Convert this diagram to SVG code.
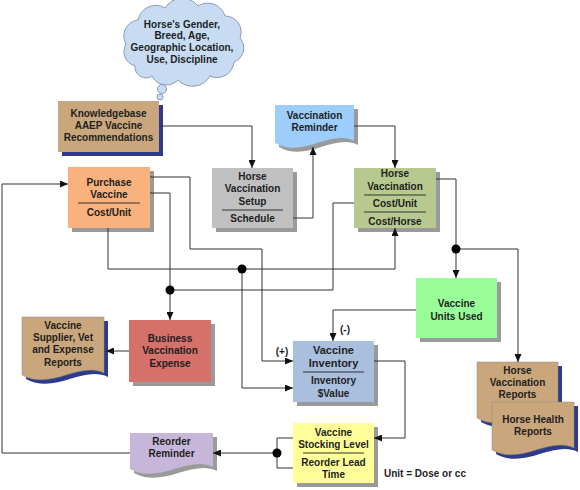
<svg xmlns="http://www.w3.org/2000/svg" width="580" height="490" viewBox="0 0 580 490">
<style>
text{font-family:"Liberation Sans",Arial,sans-serif;font-weight:bold;font-size:10px;fill:#1e1e1e;text-anchor:middle}
.sh{fill:#9a9a9a}
.nv{fill:#2e3a8a}
.box{stroke:none}
.sep{stroke:#333;stroke-width:1}
.c{fill:none;stroke:#333;stroke-width:1}
.dot{fill:#000}
</style>
<defs>
<marker id="ar" markerUnits="userSpaceOnUse" markerWidth="8" markerHeight="7" refX="8" refY="3.5" orient="auto">
<path d="M0,0 L8,3.5 L0,7 z" fill="#111"/>
</marker>
</defs>
<rect width="580" height="490" fill="#fff"/>

<g id="cloud">
<path d="M135,66 A15,15 0 0 1 126,44 A16,16 0 0 1 138,20 A18,18 0 0 1 165,8 A20,20 0 0 1 198,6 A18,18 0 0 1 225,16 A16,16 0 0 1 240,38 A15,15 0 0 1 234,62 A17,17 0 0 1 210,76 A20,20 0 0 1 178,80 A16,16 0 0 1 152,76 A11,11 0 0 1 135,66 Z" fill="#c7dbf3" stroke="#8c9bb2" stroke-width="1"/>
<circle cx="162" cy="89" r="4.5" fill="#c7dbf3" stroke="#8c9bb2"/>
<circle cx="160" cy="97" r="3" fill="#c7dbf3" stroke="#8c9bb2"/>
<text x="182" y="27.5">Horse's Gender,</text>
<text x="182" y="39">Breed, Age,</text>
<text x="182" y="50.5">Geographic Location,</text>
<text x="182" y="63">Use, Discipline</text>
</g>

<g id="knowledgebase">
<rect class="nv" x="62" y="105" width="101" height="51"/>
<rect x="58" y="101" width="101" height="51" fill="#c9a67b"/>
<text x="108.5" y="116.5">Knowledgebase</text>
<text x="108.5" y="128.5">AAEP Vaccine</text>
<text x="108.5" y="141">Recommendations</text>
</g>

<g id="purchase">
<rect class="sh" x="72" y="171" width="82" height="61"/>
<rect x="68" y="167" width="82" height="61" fill="#f9b27d"/>
<text x="109" y="185.5">Purchase</text>
<text x="109" y="197.5">Vaccine</text>
<line class="sep" x1="78" y1="203" x2="140" y2="203"/>
<text x="109" y="215.5">Cost/Unit</text>
</g>

<g id="setup">
<rect class="sh" x="216" y="172" width="81" height="60"/>
<rect x="212" y="168" width="81" height="60" fill="#c0c0c0"/>
<text x="252.5" y="179.5">Horse</text>
<text x="252.5" y="192">Vaccination</text>
<text x="252.5" y="204.5">Setup</text>
<line class="sep" x1="222" y1="210" x2="283" y2="210"/>
<text x="252.5" y="221.5">Schedule</text>
</g>

<g id="reminder">
<path class="sh" transform="translate(4,4)" d="M275,105 H354 V141 C330.3,129 302.7,159 275,143 Z"/>
<path d="M275,105 H354 V141 C330.3,129 302.7,159 275,143 Z" fill="#9ccdfb"/>
<text x="314.5" y="118.5">Vaccination</text>
<text x="314.5" y="130.5">Reminder</text>
</g>

<g id="horsevacc">
<rect class="sh" x="358" y="172" width="82" height="60"/>
<rect x="354" y="168" width="82" height="60" fill="#b8c98f"/>
<text x="395" y="176.5">Horse</text>
<text x="395" y="189.5">Vaccination</text>
<line class="sep" x1="364" y1="195" x2="426" y2="195"/>
<text x="395" y="207">Cost/Unit</text>
<line class="sep" x1="364" y1="212" x2="426" y2="212"/>
<text x="395" y="224.5">Cost/Horse</text>
</g>

<g id="unitsused">
<rect class="sh" x="420" y="282" width="81" height="60"/>
<rect x="416" y="278" width="81" height="60" fill="#99fd99"/>
<text x="456.5" y="306.5">Vaccine</text>
<text x="456.5" y="319.5">Units Used</text>
</g>

<g id="business">
<rect class="sh" x="133" y="324" width="82" height="62"/>
<rect x="129" y="320" width="82" height="62" fill="#d5706b"/>
<text x="170" y="341.5">Business</text>
<text x="170" y="354">Vaccination</text>
<text x="170" y="366.5">Expense</text>
</g>

<g id="supplier">
<path class="nv" transform="translate(4,4)" d="M22,317 H104 V373 C79.4,361 50.7,391 22,375 Z"/>
<path d="M22,317 H104 V373 C79.4,361 50.7,391 22,375 Z" fill="#c9a67b" stroke="#8a8a8a" stroke-width="0.5"/>
<text x="63" y="328.5">Vaccine</text>
<text x="63" y="340.5">Supplier, Vet</text>
<text x="63" y="353">and Expense</text>
<text x="63" y="365.5">Reports</text>
</g>

<g id="inventory">
<rect class="sh" x="297" y="345" width="81" height="61"/>
<rect x="293" y="341" width="81" height="61" fill="#a9bfdd"/>
<text x="333.5" y="354" style="font-size:11px">Vaccine</text>
<text x="333.5" y="367" style="font-size:11px">Inventory</text>
<line class="sep" x1="303" y1="372" x2="364" y2="372"/>
<text x="333.5" y="384">Inventory</text>
<text x="333.5" y="396.5">$Value</text>
</g>

<g id="stocking">
<rect class="sh" x="297" y="427" width="81" height="60"/>
<rect x="293" y="423" width="81" height="60" fill="#ffff99"/>
<text x="333.5" y="435.5">Vaccine</text>
<text x="333.5" y="447.5">Stocking Level</text>
<line class="sep" x1="303" y1="453" x2="364" y2="453"/>
<text x="333.5" y="465.5">Reorder Lead</text>
<text x="333.5" y="477.5">Time</text>
</g>

<g id="reorder">
<path class="sh" transform="translate(4,4)" d="M130,433 H213 V467 C188.1,455 159.05,485 130,469 Z"/>
<path d="M130,433 H213 V467 C188.1,455 159.05,485 130,469 Z" fill="#c6b7da"/>
<text x="171.5" y="444.5">Reorder</text>
<text x="171.5" y="457">Reminder</text>
</g>

<g id="hvreports">
<path class="nv" transform="translate(4,4)" d="M477,362 H558 V416 C533.7,404 505.35,434 477,418 Z"/>
<path d="M477,362 H558 V416 C533.7,404 505.35,434 477,418 Z" fill="#c9a67b" stroke="#8a8a8a" stroke-width="0.5"/>
<text x="517.5" y="373.5">Horse</text>
<text x="517.5" y="385.5">Vaccination</text>
<text x="517.5" y="397.5">Reports</text>
</g>

<g id="hhreports">
<path class="nv" transform="translate(4,4)" d="M492,402 H574 V448 C549.4,436 520.7,466 492,450 Z"/>
<path d="M492,402 H574 V448 C549.4,436 520.7,466 492,450 Z" fill="#c9a67b" stroke="#8a8a8a" stroke-width="0.5"/>
<text x="533" y="422.5">Horse Health</text>
<text x="533" y="434.5">Reports</text>
</g>

<g id="connectors">
<path class="c" d="M159,126 H252 V168" marker-end="url(#ar)"/>
<path class="c" d="M293,218 H313 V147" marker-end="url(#ar)"/>
<path class="c" d="M354,126 H395 V168" marker-end="url(#ar)"/>
<path class="c" d="M436,179 H456 V278" marker-end="url(#ar)"/>
<path class="c" d="M456,249 H518 V362" marker-end="url(#ar)"/>
<path class="c" d="M416,310 H333 V341" marker-end="url(#ar)"/>
<path class="c" d="M374,361 H405 V438 H374" marker-end="url(#ar)"/>
<path class="c" d="M293,438 H277 V468 H293"/>
<path class="c" d="M277,453 H213" marker-end="url(#ar)"/>
<path class="c" d="M130,453 H2 V184 H68" marker-end="url(#ar)"/>
<path class="c" d="M150,177 H190 V249 H262 V361 H293" marker-end="url(#ar)"/>
<path class="c" d="M150,193 H170 V320" marker-end="url(#ar)"/>
<path class="c" d="M354,203 H333 V290 H170"/>
<path class="c" d="M108,228 V269 H395 V228" marker-end="url(#ar)"/>
<path class="c" d="M242,269 V388 H293" marker-end="url(#ar)"/>
<path class="c" d="M129,351 H106" marker-end="url(#ar)"/>
<circle class="dot" cx="456" cy="249" r="4.5"/>
<circle class="dot" cx="170" cy="290" r="4.5"/>
<circle class="dot" cx="242" cy="269" r="4.5"/>
<circle class="dot" cx="277" cy="453" r="4.5"/>
<text x="282" y="355">(+)</text>
<text x="345" y="333">(-)</text>
</g>
<text x="384" y="477" style="text-anchor:start">Unit = Dose or cc</text>
</svg>
